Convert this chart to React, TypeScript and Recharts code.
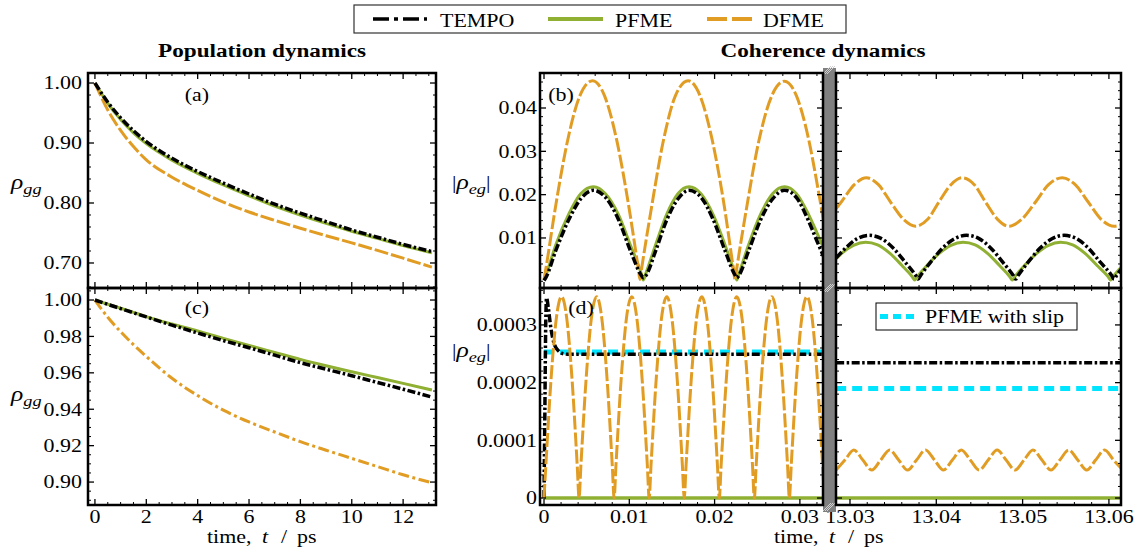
import React from 'react';
import { LineChart, Line, XAxis, YAxis } from 'recharts';

const FONT = "'Liberation Serif', 'Times New Roman', serif";
const SX = 1.22;
const BLACK = '#000000';
const GREEN = '#8FB032';
const ORANGE = '#E19C24';
const CYAN = '#00E5FF';

// ---- population panels (a) and (c) ----
const popT = [0, 0.5, 1, 1.5, 2, 3, 4, 5, 6, 7, 8, 9, 10, 11, 12, 13.12];
const aTempo = [1.0, 0.968, 0.942, 0.9205, 0.9025, 0.8745, 0.8525, 0.833, 0.815, 0.798, 0.783, 0.769, 0.755, 0.743, 0.731, 0.719];
const aPfme = [1.0, 0.966, 0.939, 0.917, 0.899, 0.8715, 0.8495, 0.83, 0.812, 0.795, 0.78, 0.766, 0.753, 0.741, 0.729, 0.717];
const aDfme = [1.0, 0.955, 0.921, 0.894, 0.872, 0.843, 0.821, 0.8015, 0.785, 0.771, 0.758, 0.7455, 0.7335, 0.721, 0.708, 0.693];
const cTempo = [1.0, 0.9976, 0.9953, 0.993, 0.9907, 0.9862, 0.9819, 0.9777, 0.9738, 0.9697, 0.9656, 0.962, 0.9584, 0.9547, 0.951, 0.9467];
const cPfme = [1.0, 0.9977, 0.9955, 0.9932, 0.9909, 0.9868, 0.983, 0.9789, 0.975, 0.9712, 0.9674, 0.9639, 0.9606, 0.9574, 0.9542, 0.9506];
const cDfme = [1.0, 0.9905, 0.9826, 0.9755, 0.969, 0.957, 0.9475, 0.9395, 0.933, 0.9275, 0.9222, 0.9175, 0.913, 0.9085, 0.904, 0.8996];

// ---- coherence (b), early times ----
const bLOrangeT = [0, 0.0002, 0.0014, 0.0028, 0.0042, 0.0057, 0.0071, 0.0085, 0.0099, 0.01105, 0.01125, 0.01145, 0.0126, 0.014, 0.0154, 0.0169, 0.0183, 0.0197, 0.0211, 0.0222, 0.0224, 0.0226, 0.0238, 0.0252, 0.0267, 0.0282, 0.0296, 0.031, 0.0322, 0.0329];
const bLOrange = [0.0004, 0.0027, 0.0178, 0.0328, 0.0428, 0.0463, 0.0428, 0.0328, 0.0178, 0.003, 0.0004, 0.003, 0.017, 0.0325, 0.0428, 0.0463, 0.0428, 0.0328, 0.0178, 0.003, 0.0004, 0.003, 0.0175, 0.0325, 0.0428, 0.0462, 0.0428, 0.033, 0.0205, 0.0125];
const bLGreenT = [0, 0.0002, 0.0014, 0.0029, 0.0043, 0.0058, 0.0072, 0.0087, 0.0101, 0.0114, 0.01164, 0.0119, 0.0131, 0.0144, 0.0157, 0.017, 0.0184, 0.0198, 0.0212, 0.0224, 0.0226, 0.0228, 0.024, 0.0254, 0.0268, 0.0282, 0.0296, 0.031, 0.032, 0.0329];
const bLGreen = [0.0003, 0.0013, 0.0085, 0.0155, 0.0202, 0.0218, 0.0202, 0.0155, 0.0085, 0.0018, 0.0003, 0.0016, 0.0085, 0.0155, 0.0202, 0.0218, 0.0202, 0.0155, 0.0085, 0.0016, 0.0003, 0.0014, 0.0085, 0.0155, 0.0202, 0.0218, 0.0202, 0.0155, 0.0112, 0.0072];
const bLTempo = [0.0002, 0.0008, 0.0072, 0.0142, 0.019, 0.021, 0.0194, 0.0144, 0.0072, 0.0014, 0.0008, 0.0012, 0.0071, 0.0142, 0.019, 0.021, 0.0194, 0.0144, 0.0072, 0.0014, 0.0008, 0.0012, 0.0071, 0.0142, 0.019, 0.021, 0.0193, 0.014, 0.0093, 0.0052];

// ---- coherence (b), late times ----
const bRGreenT = [13.0284, 13.029, 13.0304, 13.0318, 13.0332, 13.0346, 13.036, 13.0372, 13.0375, 13.0378, 13.0389, 13.0403, 13.0417, 13.0431, 13.0445, 13.0459, 13.0473, 13.0485, 13.0488, 13.0491, 13.0502, 13.0516, 13.053, 13.0544, 13.0558, 13.0572, 13.0586, 13.0599, 13.0602, 13.0605, 13.0616];
const bRGreen = [0.0052, 0.0064, 0.0083, 0.009, 0.0084, 0.0065, 0.0037, 0.0011, 0.0003, 0.0011, 0.0036, 0.0064, 0.0083, 0.009, 0.0084, 0.0065, 0.0037, 0.0011, 0.0003, 0.0011, 0.0036, 0.0064, 0.0083, 0.009, 0.0084, 0.0065, 0.0037, 0.0011, 0.0003, 0.0011, 0.0036];
const bRTempoT = [13.0284, 13.0294, 13.0308, 13.0322, 13.0336, 13.035, 13.0364, 13.0376, 13.0379, 13.0382, 13.0393, 13.0407, 13.0421, 13.0435, 13.0449, 13.0463, 13.0477, 13.0489, 13.0492, 13.0495, 13.0506, 13.052, 13.0534, 13.0548, 13.0562, 13.0576, 13.059, 13.0603, 13.0606, 13.0609, 13.0616];
const bRTempo = [0.0054, 0.0075, 0.0098, 0.0106, 0.0099, 0.0077, 0.0044, 0.0014, 0.0005, 0.0014, 0.0043, 0.0076, 0.0098, 0.0106, 0.0099, 0.0077, 0.0044, 0.0014, 0.0005, 0.0014, 0.0043, 0.0076, 0.0098, 0.0106, 0.0099, 0.0077, 0.0044, 0.0014, 0.0005, 0.0014, 0.0032];
const bROrangeT = [13.0284, 13.0291, 13.0305, 13.0319, 13.0333, 13.0347, 13.0362, 13.0376, 13.039, 13.0403, 13.0417, 13.043, 13.0444, 13.0457, 13.0471, 13.0484, 13.0499, 13.0515, 13.053, 13.0546, 13.0561, 13.0576, 13.0591, 13.0606, 13.0616];
const bROrange = [0.0168, 0.0186, 0.0223, 0.0239, 0.0223, 0.0183, 0.0143, 0.0127, 0.0143, 0.0183, 0.0223, 0.0239, 0.0223, 0.0183, 0.0143, 0.0127, 0.0143, 0.0183, 0.0223, 0.0239, 0.0223, 0.0183, 0.0143, 0.0127, 0.0132];

// ---- coherence (d), early times ----
const dLOrangeT = [
  0, 0.00021, 0.00082, 0.00144, 0.00206, 0.00267, 0.00329, 0.0039,
  0.00411, 0.00432, 0.00493, 0.00555, 0.00617, 0.00678, 0.0074, 0.00801,
  0.00822, 0.00843, 0.00904, 0.00966, 0.01028, 0.01089, 0.01151, 0.01212,
  0.01233, 0.01254, 0.01315, 0.01377, 0.01439, 0.015, 0.01562, 0.01623,
  0.01644, 0.01665, 0.01726, 0.01788, 0.0185, 0.01911, 0.01973, 0.02034,
  0.02055, 0.02076, 0.02137, 0.02199, 0.02261, 0.02322, 0.02384, 0.02445,
  0.02466, 0.02487, 0.02548, 0.0261, 0.02672, 0.02733, 0.02795, 0.02856,
  0.02877, 0.02898, 0.02959, 0.03021, 0.03083, 0.03144, 0.03206, 0.03267, 0.03288,
];
const dLOrange = [
  0, 0.000055, 0.000205, 0.000311, 0.000349, 0.000311, 0.000205, 0.000055,
  0, 0.000055, 0.000205, 0.000311, 0.000349, 0.000311, 0.000205, 0.000055,
  0, 0.000055, 0.000205, 0.000311, 0.000349, 0.000311, 0.000205, 0.000055,
  0, 0.000055, 0.000205, 0.000311, 0.000349, 0.000311, 0.000205, 0.000055,
  0, 0.000055, 0.000205, 0.000311, 0.000349, 0.000311, 0.000205, 0.000055,
  0, 0.000055, 0.000205, 0.000311, 0.000349, 0.000311, 0.000205, 0.000055,
  0, 0.000055, 0.000205, 0.000311, 0.000349, 0.000311, 0.000205, 0.000055,
  0, 0.000055, 0.000205, 0.000311, 0.000349, 0.000311, 0.000205, 0.000055, 0,
];
const dLTempoT = [0, 0.0001, 0.0002, 0.0003, 0.0005, 0.0008, 0.0012, 0.0017, 0.0023, 0.003, 0.0329];
const dLTempo = [0, 0.00015, 0.0003, 0.000347, 0.00033, 0.000295, 0.000267, 0.000255, 0.00025, 0.000249, 0.000249];
const dLEdgeT = [0, 0.0329];
const dLSlip = [0.000253, 0.000253];
const dLGreen = [0, 0];

// ---- coherence (d), late times ----
const dREdgeT = [13.0284, 13.0616];
const dRTempo = [0.0002345, 0.0002345];
const dRSlip = [0.00019, 0.00019];
const dRGreen = [0, 0];
const dROrangeT = [13.0284, 13.02941, 13.03045, 13.03149, 13.03252, 13.03356, 13.0346, 13.03564, 13.03668, 13.03771, 13.03875, 13.03979, 13.04083, 13.04186, 13.0429, 13.04394, 13.04498, 13.04601, 13.04705, 13.04809, 13.04913, 13.05016, 13.0512, 13.05224, 13.05328, 13.05431, 13.05535, 13.05639, 13.05743, 13.05846, 13.0595, 13.06054, 13.0616];
const dROrange = [
  0.0000485, 0.0000658, 0.0000832, 0.0000658, 0.0000485, 0.0000658, 0.0000832, 0.0000658,
  0.0000485, 0.0000658, 0.0000832, 0.0000658, 0.0000485, 0.0000658, 0.0000832, 0.0000658,
  0.0000485, 0.0000658, 0.0000832, 0.0000658, 0.0000485, 0.0000658, 0.0000832, 0.0000658,
  0.0000485, 0.0000658, 0.0000832, 0.0000658, 0.0000485, 0.0000658, 0.0000832, 0.0000658, 0.0000485,
];

// tick labels
const popXMajor = [0, 2, 4, 6, 8, 10, 12];
const aYMajor = [0.7, 0.8, 0.9, 1.0];
const cYMajor = [0.9, 0.92, 0.94, 0.96, 0.98, 1.0];
const bYMajor = [0.01, 0.02, 0.03, 0.04];
const dYMajor = [0, 0.0001, 0.0002, 0.0003];
const earlyXMajor = [0, 0.01, 0.02, 0.03];
const lateXMajor = [13.03, 13.04, 13.05, 13.06];

const pts = (ts: number[], vs: number[]) => ts.map((t, i) => ({ t, v: vs[i] }));
const steps = (a: number, b: number, s: number) => {
  const out: number[] = [];
  for (let i = 0; a + i * s <= b + s * 1e-6; i++) out.push(+(a + i * s).toFixed(9));
  return out;
};

type Side = 'bottom' | 'top' | 'left' | 'right';

const makeTick = (side: Side, majors: number[], fmt?: (v: number) => string, gap = 0) => (props: any) => {
  const { x, y, payload } = props;
  const v = payload.value;
  const major = majors.some((m) => Math.abs(m - v) < 1e-10);
  const len = major ? 6 : 3;
  const sw = major ? 1.3 : 1;
  let line = null;
  let label = null;
  const txt = (anchor: string, dy: string) =>
    major && fmt ? (
      <text
        transform={`translate(${x} ${y}) scale(${SX} 1)`}
        textAnchor={anchor}
        dy={dy}
        fontSize={18}
        fontFamily={FONT}
        fill="#000"
      >
        {fmt(v)}
      </text>
    ) : null;
  if (side === 'bottom') {
    line = <line x1={x} x2={x} y1={y - gap} y2={y - gap - len} stroke="#000" strokeWidth={sw} />;
    label = txt('middle', '0.71em');
  } else if (side === 'top') {
    line = <line x1={x} x2={x} y1={y + gap} y2={y + gap + len} stroke="#000" strokeWidth={sw} />;
  } else if (side === 'left') {
    line = <line x1={x + gap} x2={x + gap + len} y1={y} y2={y} stroke="#000" strokeWidth={sw} />;
    label = txt('end', '0.35em');
  } else {
    line = <line x1={x - gap} x2={x - gap - len} y1={y} y2={y} stroke="#000" strokeWidth={sw} />;
  }
  return (
    <g>
      {line}
      {label}
    </g>
  );
};

type Box = { x: number; y: number; w: number; h: number };

const boxA: Box = { x: 88, y: 73, w: 348, h: 215 };
const boxC: Box = { x: 88, y: 288, w: 348, h: 217 };
const boxBL: Box = { x: 540, y: 73, w: 283, h: 215 };
const boxBR: Box = { x: 836, y: 73, w: 285, h: 215 };
const boxDL: Box = { x: 540, y: 288, w: 283, h: 217 };
const boxDR: Box = { x: 836, y: 288, w: 285, h: 217 };

interface PanelProps {
  box: Box;
  xd: [number, number];
  yd: [number, number];
  xt: number[];
  xm: number[];
  yt: number[];
  ym: number[];
  xf?: (v: number) => string;
  yf?: (v: number) => string;
  yGap?: number;
  children: React.ReactNode;
}

// each axis takes 1px so the plot area lands exactly on the box
const Panel = ({ box, xd, yd, xt, xm, yt, ym, xf, yf, yGap = 6, children }: PanelProps) => (
  <div style={{ position: 'absolute', left: box.x - 1, top: box.y - 1 }}>
    <LineChart width={box.w + 2} height={box.h + 2} margin={{ top: 0, right: 0, bottom: 0, left: 0 }}>
      <XAxis type="number" dataKey="t" domain={xd} allowDataOverflow ticks={xt} interval={0} height={1}
        tickSize={0} tickMargin={5} axisLine={false} tick={makeTick('bottom', xm, xf, 5)} />
      <XAxis xAxisId="top" orientation="top" type="number" dataKey="t" domain={xd} allowDataOverflow ticks={xt}
        interval={0} height={1} tickSize={0} tickMargin={0} axisLine={false} tick={makeTick('top', xm)} />
      <YAxis type="number" domain={yd} allowDataOverflow ticks={yt} interval={0} width={1}
        tickSize={0} tickMargin={yGap} axisLine={false} tick={makeTick('left', ym, yf, yGap)} />
      <YAxis yAxisId="right" orientation="right" type="number" domain={yd} allowDataOverflow ticks={yt}
        interval={0} width={1} tickSize={0} tickMargin={0} axisLine={false} tick={makeTick('right', ym)} />
      {children}
    </LineChart>
  </div>
);

const TEMPO_DASH = '8 2.5 2.5 2.5';
const DFME_DASH = '14 3';

const ln = (data: { t: number; v: number }[], stroke: string, dash?: string, width = 3) => (
  <Line data={data} dataKey="v" type="monotone" stroke={stroke} strokeWidth={width} strokeDasharray={dash}
    dot={false} activeDot={false} isAnimationActive={false} />
);

const Txt = ({ x, y, size = 18, anchor = 'start', bold = false, italic = false, children }: any) => (
  <text transform={`translate(${x} ${y}) scale(${SX} 1)`} fontSize={size} fontFamily={FONT}
    fontWeight={bold ? 'bold' : 'normal'} fontStyle={italic ? 'italic' : 'normal'} textAnchor={anchor} fill="#000">
    {children}
  </text>
);

const Rho = ({ sub }: { sub: string }) => (
  <>
    <tspan fontStyle="italic" fontFamily={FONT} fontSize={21}>ρ</tspan>
    <tspan fontStyle="italic" fontFamily={FONT} fontSize={15} dy={5}>{sub}</tspan>
  </>
);

// "time, t / ps" with the wide spacing of the original
const TimeLabel = ({ x, y }: { x: number; y: number }) => (
  <>
    <Txt x={x} y={y}>time,</Txt>
    <Txt x={x + 55} y={y} italic>t</Txt>
    <Txt x={x + 74} y={y}>/</Txt>
    <Txt x={x + 90} y={y}>ps</Txt>
  </>
);

const f2 = (v: number) => v.toFixed(2);
const fInt = (v: number) => String(Math.round(v));
const fEarly = (v: number) => (v === 0 ? '0' : v.toFixed(2));
const fD = (v: number) => (v === 0 ? '0' : v.toFixed(4));

const popXTicks = steps(0, 13, 0.5);
const earlyXTicks = steps(0, 0.032, 0.002);
const lateXTicks = steps(13.03, 13.06, 0.002);

export default function App() {
  const frames = [boxA, boxC, boxBL, boxBR, boxDL, boxDR];
  return (
    <div style={{ position: 'absolute', left: 0, top: 0, width: 1136, height: 556, background: '#fff' }}>
      <style>{'.recharts-surface{overflow:visible}'}</style>

      <Panel box={boxA} xd={[-0.27, 13.28]} yd={[0.6583, 1.0167]} xt={popXTicks} xm={popXMajor}
        yt={steps(0.66, 1.0, 0.02)} ym={aYMajor} yf={f2}>
        {ln(pts(popT, aPfme), GREEN)}
        {ln(pts(popT, aDfme), ORANGE, DFME_DASH)}
        {ln(pts(popT, aTempo), BLACK, TEMPO_DASH, 3.5)}
      </Panel>

      <Panel box={boxC} xd={[-0.27, 13.28]} yd={[0.8874, 1.0066]} xt={popXTicks} xm={popXMajor} xf={fInt}
        yt={steps(0.89, 1.005, 0.005)} ym={cYMajor} yf={f2}>
        {ln(pts(popT, cPfme), GREEN)}
        {ln(pts(popT, cDfme), ORANGE, '11 3.5 3 3.5')}
        {ln(pts(popT, cTempo), BLACK, TEMPO_DASH, 3.5)}
      </Panel>

      <Panel box={boxBL} xd={[-0.00047, 0.03271]} yd={[-0.00155, 0.04808]} xt={earlyXTicks} xm={earlyXMajor}
        yt={steps(0, 0.048, 0.002)} ym={bYMajor} yf={f2} yGap={3}>
        {ln(pts(bLGreenT, bLGreen), GREEN)}
        {ln(pts(bLOrangeT, bLOrange), ORANGE, DFME_DASH)}
        {ln(pts(bLGreenT, bLTempo), BLACK, TEMPO_DASH, 3.5)}
      </Panel>

      <Panel box={boxBR} xd={[13.02838, 13.0614]} yd={[-0.00155, 0.04808]} xt={lateXTicks} xm={lateXMajor}
        yt={steps(0, 0.048, 0.002)} ym={bYMajor}>
        {ln(pts(bRGreenT, bRGreen), GREEN)}
        {ln(pts(bROrangeT, bROrange), ORANGE, DFME_DASH)}
        {ln(pts(bRTempoT, bRTempo), BLACK, TEMPO_DASH, 3.5)}
      </Panel>

      <Panel box={boxDL} xd={[-0.00047, 0.03271]} yd={[-0.0000121, 0.000364]} xt={earlyXTicks} xm={earlyXMajor}
        xf={fEarly} yt={steps(0, 0.00036, 0.00002)} ym={dYMajor} yf={fD} yGap={3}>
        {ln(pts(dLEdgeT, dLGreen), GREEN, undefined, 3.5)}
        {ln(pts(dLEdgeT, dLSlip), CYAN, '10 6', 5)}
        {ln(pts(dLTempoT, dLTempo), BLACK, TEMPO_DASH, 3.5)}
        {ln(pts(dLOrangeT, dLOrange), ORANGE, DFME_DASH)}
      </Panel>

      <Panel box={boxDR} xd={[13.02838, 13.0614]} yd={[-0.0000121, 0.000364]} xt={lateXTicks} xm={lateXMajor}
        xf={f2} yt={steps(0, 0.00036, 0.00002)} ym={dYMajor}>
        {ln(pts(dREdgeT, dRGreen), GREEN, undefined, 3.5)}
        {ln(pts(dREdgeT, dRSlip), CYAN, '10 6', 5)}
        {ln(pts(dREdgeT, dRTempo), BLACK, TEMPO_DASH, 3.5)}
        {ln(pts(dROrangeT, dROrange), ORANGE, DFME_DASH)}
      </Panel>

      <svg width={1136} height={556} style={{ position: 'absolute', left: 0, top: 0, pointerEvents: 'none' }}>
        {/* axis break */}
        <rect x={823} y={68} width={13} height={444} fill="#808080" />
        {[70, 288, 507].map((cy) => (
          <g key={cy} stroke="#d0d0d0" strokeWidth={1}>
            <line x1={825} y1={cy + 4} x2={833} y2={cy - 4} />
            <line x1={827} y1={cy + 4} x2={835} y2={cy - 4} />
            <line x1={823} y1={cy + 4} x2={831} y2={cy - 4} />
          </g>
        ))}
        {frames.map((b, i) => (
          <rect key={i} x={b.x} y={b.y} width={b.w} height={b.h} fill="none" stroke="#000" strokeWidth={2.5} />
        ))}

        {/* top legend */}
        <rect x={354} y={5} width={492} height={28} fill="#fff" stroke="#333" strokeWidth={1.2} />
        <line x1={373} x2={427} y1={19} y2={19} stroke={BLACK} strokeWidth={3.5} strokeDasharray="16 5 4 5" />
        <Txt x={440} y={26.5}>TEMPO</Txt>
        <line x1={548} x2={603} y1={19} y2={19} stroke={GREEN} strokeWidth={4} />
        <Txt x={615} y={26.5}>PFME</Txt>
        <line x1={707} x2={752} y1={19} y2={19} stroke={ORANGE} strokeWidth={4} strokeDasharray="20 5" />
        <Txt x={763} y={26.5}>DFME</Txt>

        {/* titles */}
        <Txt x={262} y={57} size={19} anchor="middle" bold>Population dynamics</Txt>
        <Txt x={823} y={57} size={19} anchor="middle" bold>Coherence dynamics</Txt>

        {/* panel labels */}
        <Txt x={197} y={101} anchor="middle">(a)</Txt>
        <Txt x={197} y={314} anchor="middle">(c)</Txt>
        <Txt x={561} y={101} anchor="middle">(b)</Txt>
        <Txt x={581} y={314} anchor="middle">(d)</Txt>

        {/* axis labels */}
        <Txt x={11} y={189}><Rho sub="gg" /></Txt>
        <Txt x={11} y={401}><Rho sub="gg" /></Txt>
        <Txt x={452} y={189}>|<Rho sub="eg" /><tspan dy={-5}>|</tspan></Txt>
        <Txt x={452} y={357}>|<Rho sub="eg" /><tspan dy={-5}>|</tspan></Txt>
        <TimeLabel x={207} y={543} />
        <TimeLabel x={774} y={543} />

        {/* inset legend */}
        <rect x={876} y={303} width={201} height={27} fill="#fff" stroke="#000" strokeWidth={1} />
        <line x1={880} x2={918} y1={316.5} y2={316.5} stroke={CYAN} strokeWidth={5} strokeDasharray="8 5" />
        <Txt x={925} y={323}>PFME with slip</Txt>
      </svg>
    </div>
  );
}
